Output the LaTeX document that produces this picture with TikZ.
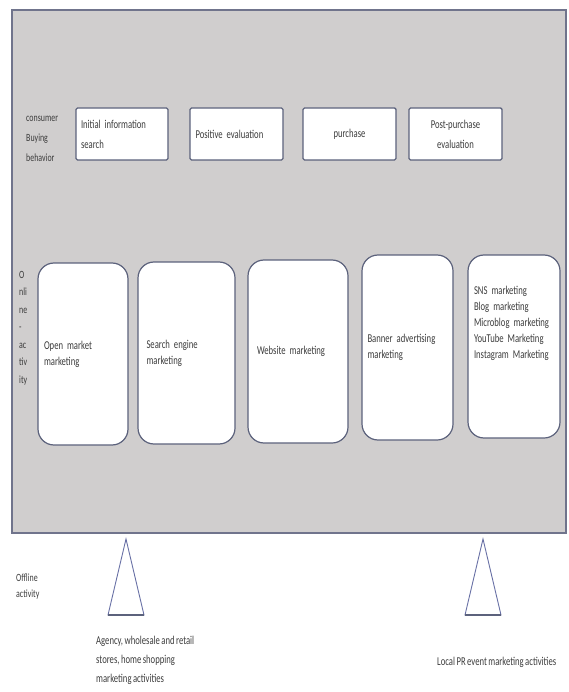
\documentclass[tikz,border=0pt]{standalone}
\usepackage{fontspec}
\setmainfont{Carlito}[FakeStretch=0.72,WordSpace=0.75]
\usetikzlibrary{positioning}

\definecolor{panelgray}{RGB}{208,206,206}
\definecolor{panelline}{RGB}{112,116,140}
\definecolor{boxline}{RGB}{92,98,124}
\definecolor{triline}{RGB}{104,112,165}
\definecolor{txtgray}{RGB}{60,60,60}

\begin{document}
\begin{tikzpicture}[x=1pt,y=-1pt,
    font=\fontsize{12}{16}\selectfont, text=txtgray,
    stage/.style={draw=boxline,line width=1.4pt,fill=white,rounded corners=1.5pt,
      minimum height=52pt,inner sep=0pt,font=\fontsize{12}{20}\selectfont},
    channel/.style={draw=boxline,line width=1.2pt,fill=white,rounded corners=16pt,
      inner sep=0pt,align=left},
    sidelbl/.style={align=left,font=\fontsize{11}{20}\selectfont,inner sep=0pt},
    note/.style={align=left,inner sep=0pt,font=\fontsize{12}{19}\selectfont}]
  \useasboundingbox (0,0) rectangle (568,692);

  % grey panel
  \draw[fill=panelgray,draw=panelline,line width=1.3pt] (12,10) rectangle (566,533);

  % buying behaviour stages
  \node[sidelbl,anchor=north west] (buy) at (26,116) {consumer\\Buying\\behavior};
  \node[stage,minimum width=92pt,text width=82pt,align=left] (s1) at (122,134) {Initial information\\search};
  \node[stage,minimum width=93pt,text width=82pt,align=left] (s2) at (236.5,134) {Positive evaluation};
  \node[stage,minimum width=93pt,align=center] (s3) at (349.5,134) {purchase};
  \node[stage,minimum width=93pt,align=center] (s4) at (455.5,134) {Post-purchase\\evaluation};

  % online activity
  \node[sidelbl,anchor=north west,font=\fontsize{11}{17.5}\selectfont] (onl) at (19,271) {O\\nli\\ne\\-\\ac\\tiv\\ity};
  \node[channel,minimum width=90pt,minimum height=182pt,text width=78pt] (c1) at (83,354) {Open market\\marketing};
  \node[channel,minimum width=97pt,minimum height=182pt,text width=80pt] (c2) at (186.5,353) {Search engine\\marketing};
  \node[channel,minimum width=100pt,minimum height=183pt,text width=82pt] (c3) at (298,351.5) {Website marketing};
  \node[channel,minimum width=91pt,minimum height=185pt,text width=80pt] (c4) at (407.5,347.5) {Banner advertising\\marketing};
  \node[channel,minimum width=92pt,minimum height=183pt,text width=80pt] (c5) at (514,346.5)
    {SNS marketing\\Blog marketing\\Microblog marketing\\YouTube Marketing\\Instagram Marketing\par\vspace*{46pt}};

  % offline activity
  \node[note,anchor=north west,font=\fontsize{11}{16}\selectfont] (off) at (16,574) {Offline\\activity};
  \coordinate (ta) at (126,539);
  \coordinate (tb) at (483,539);
  \draw[triline,line width=0.9pt] (ta) -- ++(-18,76) -- ++(36,0) -- cycle;
  \draw[boxline,line width=1.4pt] ([xshift=-18pt,yshift=-76pt]ta) -- ++(36,0);
  \draw[triline,line width=0.9pt] (tb) -- ++(-18,76) -- ++(36,0) -- cycle;
  \draw[boxline,line width=1.4pt] ([xshift=-18pt,yshift=-76pt]tb) -- ++(36,0);
  \node[note,anchor=north west] (agency) at (96,636) {Agency, wholesale and retail\\stores, home shopping\\marketing activities};
  \node[note,anchor=west] (local) at (437,662) {Local PR event marketing activities};
\end{tikzpicture}
\end{document}
